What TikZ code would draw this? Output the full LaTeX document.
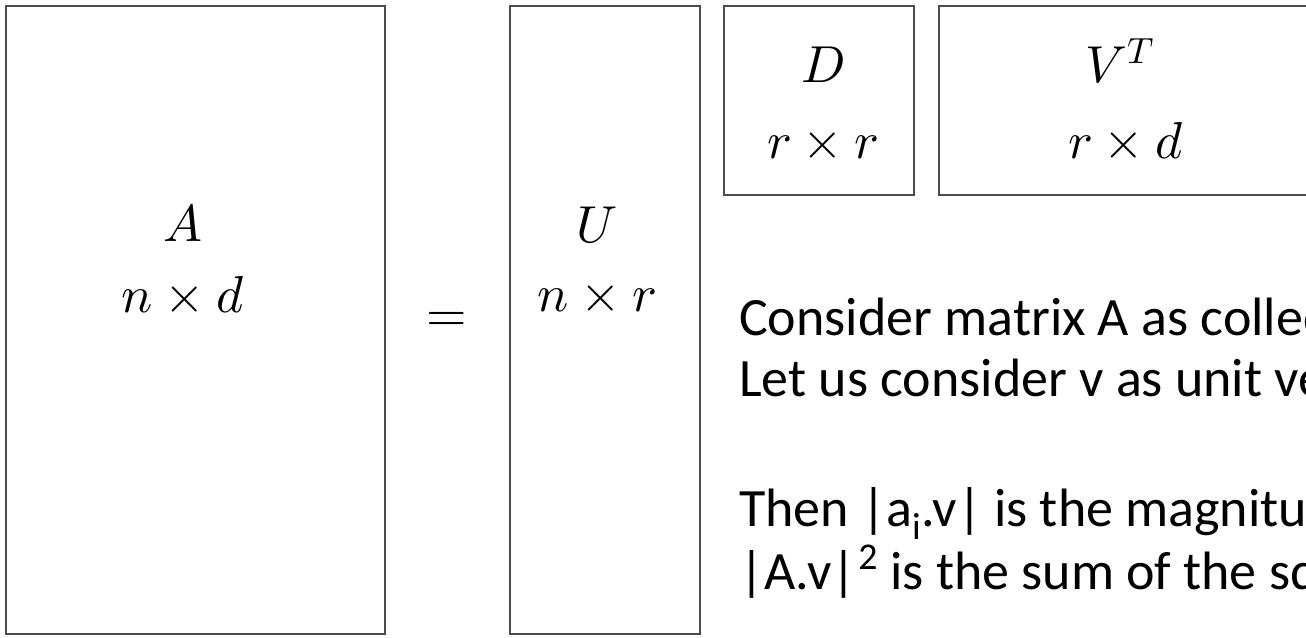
\documentclass[tikz,border=0pt]{standalone}
\usepackage{fontspec}
\usepackage{unicode-math}
\setmathfont{Latin Modern Math}
\newfontfamily\calib{Carlito}
\begin{document}
\begin{tikzpicture}[x=1pt,y=-1pt,
  mbox/.style={draw=black!70,line width=1.6pt,inner sep=0pt,fill=none},
  mlab/.style={inner sep=0pt,anchor=base,font=\fontsize{52}{60}\selectfont},
  para/.style={inner sep=0pt,anchor=base west,font=\calib\fontsize{54}{64}\selectfont}]
\useasboundingbox (0,0) rectangle (1306,637);
\clip (0,0) rectangle (1306,637);
\fill[white] (0,0) rectangle (1306,637);
% boxes
\node[mbox,minimum width=379pt,minimum height=628pt] (A) at (195.5,320) {};
\node[mbox,minimum width=190pt,minimum height=628pt] (U) at (605,320) {};
\node[mbox,minimum width=190pt,minimum height=189pt] (D) at (819,100.5) {};
\node[mbox,minimum width=420pt,minimum height=189pt] (V) at (1149,100.5) {};
% labels
\node[mlab] (Al) at (183,241) {$A$};
\node[mlab] (Ad) at (183,312) {$n\times d$};
\node[mlab] (eq) at (447,331) {$=$};
\node[mlab] (Ul) at (597,242) {$U$};
\node[mlab] (Ud) at (597,311) {$n\times r$};
\node[mlab] (Dl) at (823,82) {$D$};
\node[mlab] (Dd) at (823,158) {$r\times r$};
\node[mlab] (Vl) at (1120,82) {$V^T$};
\node[mlab] (Vd) at (1126,158) {$r\times d$};
% text
\node[para] (t1) at (739,335) {Consider matrix A as collection};
\node[para] (t2) at (739,396) {Let us consider v as unit vector};
\node[para] (t3) at (739,526) {Then |a\textsubscript{i}.v| is the magnitude};
\node[para] (t4) at (739,589) {|A.v|\kern2pt\textsuperscript{2} is the sum of the squares};
\end{tikzpicture}
\end{document}
